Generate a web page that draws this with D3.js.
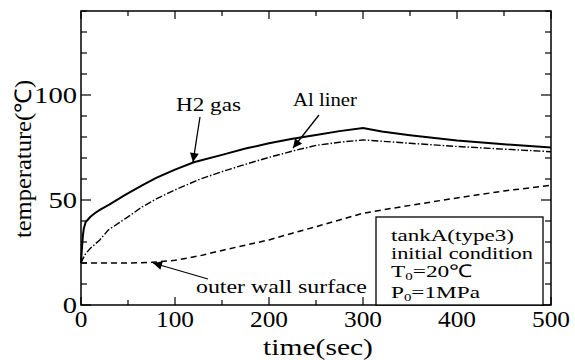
<!DOCTYPE html>
<html><head><meta charset="utf-8">
<script src="https://cdn.jsdelivr.net/npm/d3@7"></script>
<style>body{margin:0;background:#fff}svg{display:block}</style>
</head><body>
<svg id="c" width="575" height="360"></svg>
<script>
// ---- data ----
const h2Time  = [0,1,2,3,5,10,15,20,30,47,65,80,100,120,150,175,200,225,250,275,300,320,350,400,450,500];
const h2Temp  = [20,27,33,36.5,39.5,42,43.8,45.3,47.8,52.4,57,60.5,64.5,68,71.5,74.5,77,79.2,81,82.8,84.3,82.6,80.8,78.3,76.5,75];
const alTime  = [0,2,5,10,20,29,50,65,80,100,127,150,175,200,225,250,275,300,350,400,450,500];
const alTemp  = [20,22,24.5,27,31,35.7,42,46.7,50.5,54.8,60,63.5,67,70.3,73.3,76,77.5,78.6,77,75.5,74.2,73];
const owTime  = [0,50,75,100,127,150,175,200,225,250,275,300,340,400,450,500];
const owTemp  = [20,20,20.3,21.3,23.5,26,28.5,31,34.2,37.3,40.5,43.7,46.7,51,54.3,57];
const xTicksMajor = [0,100,200,300,400,500];
const xTicksMinor = [50,150,250,350,450];
const yTicksLabel = [0,50,100];
const yTicksAll   = [0,10,20,30,40,50,60,70,80,90,100,110,120,130,140];
const boxLines = ["tankA(type3)","initial condition","T|0|=20℃","P|0|=1MPa"];

// ---- layout ----
const svg = d3.select("#c");
const L=81, R=551, T=11, B=305;
const x = d3.scaleLinear().domain([0,500]).range([L,R]);
const y = d3.scaleLinear().domain([0,140]).range([B,T]);
const font = "Liberation Serif, Times New Roman, serif";

// text with font-size from glyph height, width stretched to the reference width
function stext(parts, px, py, size, width, anchor, rot, subDy){
  const t = svg.append("text").attr("font-family",font).attr("font-size",size)
    .attr("text-anchor",anchor||"start").attr("fill","#000");
  if(typeof parts === "string"){ t.text(parts); }
  else{
    t.append("tspan").text(parts[0]);
    t.append("tspan").attr("font-size",size*0.64).attr("dy",subDy).text(parts[1]);
    t.append("tspan").attr("dy",-subDy).text(parts[2]);
  }
  const len = t.node().getComputedTextLength();
  const sx = width ? width/len : 1;
  t.attr("transform",`translate(${px},${py})${rot?" rotate(-90)":""} scale(${sx},1)`);
  return t;
}

// ---- curves ----
const line = d3.line().x(d=>x(d[0])).y(d=>y(d[1]));
svg.append("path").datum(d3.zip(owTime,owTemp)).attr("d",line)
  .attr("fill","none").attr("stroke","#000").attr("stroke-width",1.5).attr("stroke-dasharray","6,4");
svg.append("path").datum(d3.zip(alTime,alTemp)).attr("d",line)
  .attr("fill","none").attr("stroke","#000").attr("stroke-width",1.4).attr("stroke-dasharray","7,2,1.5,2");
svg.append("path").datum(d3.zip(h2Time,h2Temp)).attr("d",line)
  .attr("fill","none").attr("stroke","#000").attr("stroke-width",2);

// ---- frame & ticks ----
svg.append("rect").attr("x",L).attr("y",T).attr("width",R-L).attr("height",B-T)
  .attr("fill","none").attr("stroke","#000").attr("stroke-width",1.5);
const tk = svg.append("g").attr("stroke","#000").attr("stroke-width",1.2);
xTicksMajor.concat(xTicksMinor).forEach(v=>{
  const len = xTicksMajor.includes(v)?8:5;
  tk.append("line").attr("x1",x(v)).attr("x2",x(v)).attr("y1",B).attr("y2",B-len);
  tk.append("line").attr("x1",x(v)).attr("x2",x(v)).attr("y1",T).attr("y2",T+len);
});
yTicksAll.forEach(v=>{
  const len = yTicksLabel.includes(v)?10:6;
  tk.append("line").attr("y1",y(v)).attr("y2",y(v)).attr("x1",L).attr("x2",L+len);
  tk.append("line").attr("y1",y(v)).attr("y2",y(v)).attr("x1",R).attr("x2",R-len);
});
xTicksMajor.forEach(v=>stext(String(v), x(v), 327, 23, String(v).length*12.7, "middle"));
yTicksLabel.forEach(v=>stext(String(v), 77, y(v)+7.5, 23, String(v).length*14.3, "end"));

// axis titles
stext("time(sec)", (L+R)/2+2, 355, 23, 110, "middle");
stext("temperature(℃)", 31, 159, 23, 158, "middle", true);

// ---- annotations ----
svg.append("defs").append("marker").attr("id","ah").attr("viewBox","0 0 10 10")
  .attr("refX",10).attr("refY",5).attr("markerWidth",14).attr("markerHeight",9)
  .attr("markerUnits","userSpaceOnUse").attr("orient","auto")
  .append("path").attr("d","M0,0L10,5L0,10z").attr("fill","#000");
function arrow(x1,y1,x2,y2){
  svg.append("line").attr("x1",x1).attr("y1",y1).attr("x2",x2).attr("y2",y2)
    .attr("stroke","#000").attr("stroke-width",1.3).attr("marker-end","url(#ah)");
}
stext("H2  gas", 176, 111, 19, 65, "start");
arrow(200,117,193,162);
stext("Al liner", 293, 106, 19, 64, "start");
arrow(319,115,293,148);
stext("outer wall surface", 196, 293, 19, 171, "start");
arrow(208,279,153,263);

// ---- info box ----
svg.append("rect").attr("x",376).attr("y",217).attr("width",167).attr("height",B-217)
  .attr("fill","#fff").attr("stroke","#000").attr("stroke-width",1.3);
const boxW = [123,142,81,89];
const boxY = [241,259,277,298];
boxLines.forEach((s,i)=>{
  const p = s.split("|");
  stext(p.length===1?s:p, 391, boxY[i], 17.5, boxW[i], "start", false, 3);
});
</script>
</body></html>
